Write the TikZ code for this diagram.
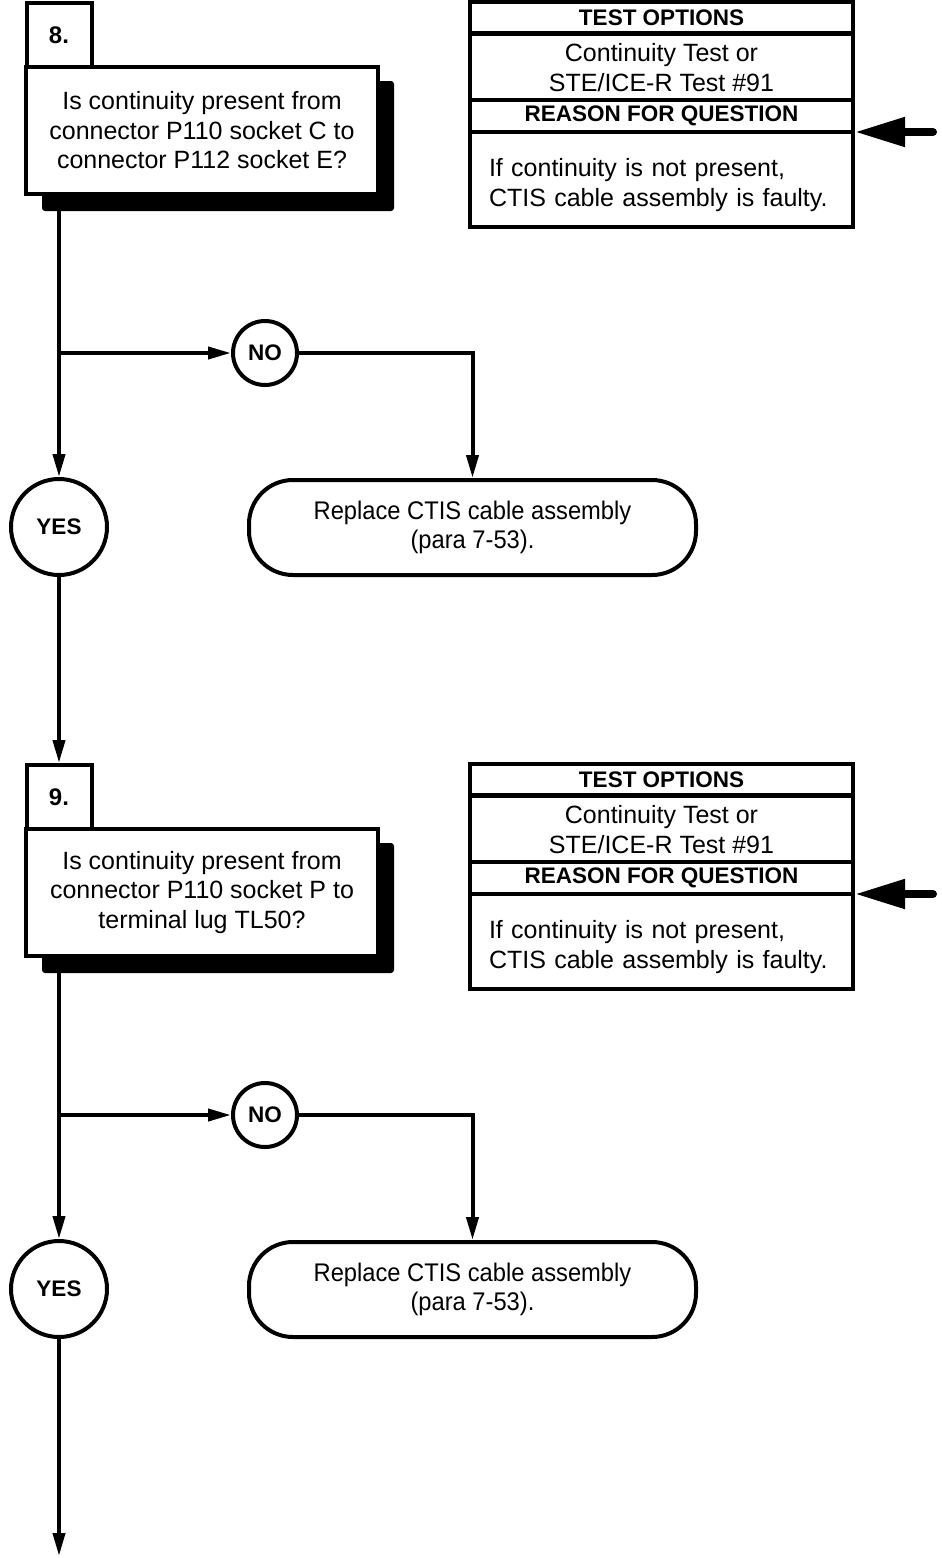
\documentclass[tikz,border=0pt]{standalone}
\usepackage{fontspec}
\setmainfont{Liberation Sans}
\newfontfamily\narrowfont[FakeStretch=0.93]{Liberation Sans}
\usetikzlibrary{arrows.meta}
\tikzset{
  ln/.style={line width=4pt},
  flow/.style={line width=4pt, -{Triangle[length=23pt,width=12pt]}},
  bigflow/.style={line width=8pt, line cap=round, -{Triangle[length=50pt,width=28pt]}},
  txt/.style={font=\fontsize{25}{29.5}\selectfont},
  hdr/.style={font=\fontsize{22.5}{27}\selectfont\bfseries},
  qbox/.style={draw, line width=4pt, fill=white, inner sep=0pt, minimum width=352pt, minimum height=127pt, align=center, txt},
  numbox/.style={draw, line width=4pt, fill=white, inner sep=0pt, minimum width=65pt, minimum height=64pt, font=\fontsize{24}{28}\selectfont\bfseries},
  shadowbox/.style={fill=black, inner sep=0pt, minimum width=352pt, minimum height=130pt, rounded corners=3pt},
  rowbox/.style={draw, line width=4pt, fill=white, inner sep=0pt, minimum width=383pt, minimum height=#1},
  decision/.style={draw, line width=4pt, fill=white, circle, inner sep=0pt, minimum size=#1, font=\fontsize{22.5}{27}\selectfont\bfseries},
  endbox/.style={draw, line width=4pt, fill=white, rounded corners=44pt, inner sep=0pt, minimum width=447pt, minimum height=95pt, align=center, font=\fontsize{25.5}{29}\narrowfont},
}
\newcommand\flowblock[4]{%
  \begin{scope}[yshift=-#2pt]
    \node[shadowbox] (sh#1) at (218,146) {};
    \node[qbox] (q#1) at (202,130.5) {#4};
    \node[numbox] (n#1) at (59,35) {#3};
    % test options table
    \node[rowbox=31pt, hdr] (ta#1) at (661.5,17.5) {TEST OPTIONS};
    \node[rowbox=67pt, txt, align=center] (tb#1) at (661.5,67.5) {Continuity Test or\\STE/ICE-R Test \#91};
    \node[rowbox=32pt, hdr] (tc#1) at (661.5,116) {REASON FOR QUESTION};
    \node[rowbox=95pt] (td#1) at (661.5,179.5) {};
    \node[txt, align=left, text width=345pt, inner sep=0pt] (tdt#1) at (661.5,185) {If continuity is not present,\\CTIS cable assembly is faulty.};
    \coordinate (in#1) at (933,132);
    \draw[bigflow] (in#1) -- (in#1 -| tc#1.east);
    % decisions
    \node[decision=64pt] (no#1) at (265,353) {NO};
    \node[decision=96pt] (yes#1) at (59,527) {YES};
    \node[endbox] (r#1) at (472.5,527.5) {Replace CTIS cable assembly\\(para 7-53).};
    \coordinate (j#1) at (59,353);
    \draw[flow] (sh#1.south -| yes#1) -- (yes#1.north);
    \draw[flow] (j#1) -- (no#1.west);
    \draw[flow] (no#1.east) -- (no#1.east -| r#1.north) -- (r#1.north);
  \end{scope}}
\begin{document}
\begin{tikzpicture}[x=1pt,y=-1pt]
  \useasboundingbox (0,0) rectangle (942,1558);
  \flowblock{8}{0}{8.}{Is continuity present from\\connector P110 socket C to\\connector P112 socket E?}
  \flowblock{9}{762}{9.}{Is continuity present from\\connector P110 socket P to\\terminal lug TL50?}
  \coordinate (end9) at (59,1556);
  \draw[flow] (yes8.south) -- (n9.north);
  \draw[flow] (yes9.south) -- (end9);
\end{tikzpicture}
\end{document}
